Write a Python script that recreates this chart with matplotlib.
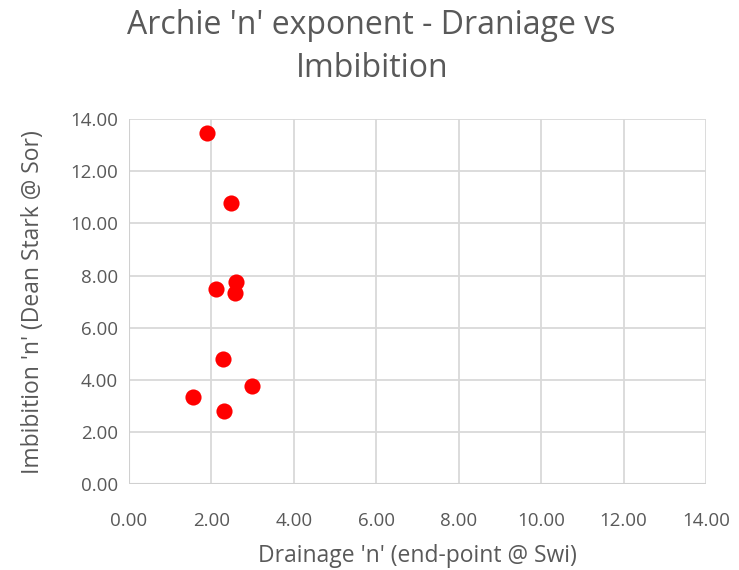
import matplotlib.pyplot as plt
import numpy as np

plt.rcParams['font.family'] = ['Open Sans', 'DejaVu Sans']

drainage_n = [1.89, 2.47, 2.60, 2.12, 2.57, 2.27, 2.98, 1.56, 2.31]
imbibition_n = [13.48, 10.79, 7.77, 7.47, 7.32, 4.79, 3.76, 3.35, 2.80]
ticks = np.arange(0, 15, 2)

fig = plt.figure(figsize=(7.39, 5.70), dpi=100)
ax = fig.add_axes([0.1746, 0.1504, 0.7807, 0.6408])
ax.scatter(drainage_n, imbibition_n, s=135, c='#ff0000', zorder=3, linewidths=0)
ax.set_xlim(0, 14)
ax.set_ylim(0, 14)
ax.set_xticks(ticks)
ax.set_yticks(ticks)
ax.set_xticklabels(['%.2f' % t for t in ticks])
ax.set_yticklabels(['%.2f' % t for t in ticks])
ax.grid(True, color='#d9d9d9', lw=1.3)
for s in ax.spines.values():
    s.set_visible(False)
ax.axhline(0, color='#d0d0d0', lw=1.5, zorder=2)
ax.axvline(0, color='#d0d0d0', lw=1.5, zorder=2)
ax.tick_params(length=0, labelsize=13.5, colors='#595959', pad=8)
ax.tick_params(axis='x', pad=20)
ax.set_xlabel("Drainage 'n' (end-point @ Swi)", fontsize=16.5, color='#595959', labelpad=10)
ax.set_ylabel("Imbibition 'n' (Dean Stark @ Sor)", fontsize=16.5, color='#595959', labelpad=18)
fig.text(0.503, 0.918, "Archie 'n' exponent - Draniage vs\nImbibition", ha='center', va='center',
         fontsize=23, color='#595959', linespacing=1.4)
fig.savefig('out.png', dpi=100)
